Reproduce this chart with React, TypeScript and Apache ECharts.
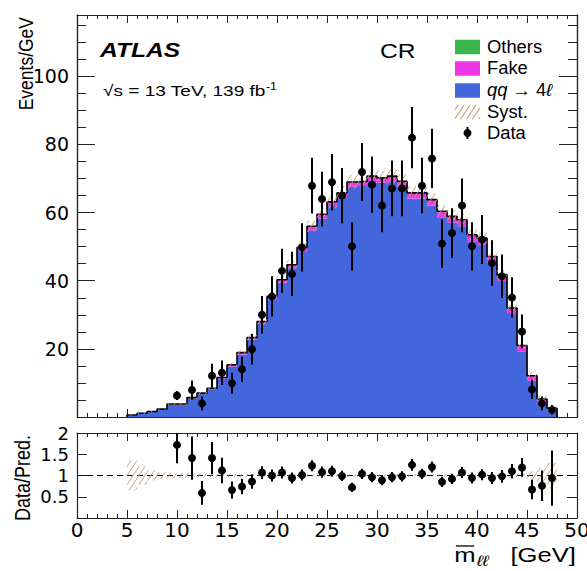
import React, { useEffect, useRef } from 'react';
import * as echarts from 'echarts';

// ---------------- data ----------------
const binEdges = [5, 6, 7, 8, 9, 11, 12, 13, 14, 15, 16, 17, 18, 19, 20, 21, 22, 23, 24, 25, 26, 27, 28, 29, 30, 31, 32, 33, 34, 35, 36, 37, 38, 39, 40, 41, 42, 43, 44, 45, 46, 47, 48];
const qqValues = [0.53, 1.03, 1.48, 2.18, 3.6, 5.45, 6.75, 8.05, 11.25, 14.8, 18.3, 22.7, 27.3, 34.6, 39.4, 43.7, 48.7, 54.8, 58.3, 61.9, 64.5, 67.6, 67.8, 69.3, 68.8, 69.2, 67.7, 64.1, 64.1, 62.1, 58.6, 57.1, 56.0, 51.6, 50.6, 45.2, 39.9, 30.2, 19.3, 10.65, 4.25, 1.85];
const fakeValues = [0.05, 0.05, 0.1, 0.1, 0.15, 0.2, 0.2, 0.3, 0.3, 0.4, 0.5, 0.5, 0.6, 0.7, 0.8, 0.9, 1.0, 1.1, 1.1, 1.2, 1.2, 1.3, 1.3, 1.3, 1.3, 1.4, 1.4, 1.6, 1.6, 1.6, 1.7, 1.7, 1.8, 1.8, 1.8, 1.8, 1.8, 1.7, 1.6, 1.4, 1.0, 0.7];
const otherValues = [0.02, 0.02, 0.02, 0.02, 0.05, 0.05, 0.05, 0.05, 0.05, 0.1, 0.1, 0.1, 0.1, 0.1, 0.1, 0.1, 0.1, 0.1, 0.1, 0.1, 0.1, 0.1, 0.1, 0.1, 0.1, 0.1, 0.1, 0.1, 0.1, 0.1, 0.1, 0.1, 0.1, 0.1, 0.1, 0.1, 0.1, 0.1, 0.1, 0.05, 0.05, 0.05];
const systRel = [0.35, 0.22, 0.12, 0.08, 0.06, 0.05, 0.05, 0.04, 0.04, 0.04, 0.035, 0.035, 0.03, 0.03, 0.03, 0.03, 0.03, 0.03, 0.03, 0.03, 0.03, 0.03, 0.03, 0.03, 0.03, 0.03, 0.03, 0.03, 0.03, 0.03, 0.03, 0.03, 0.03, 0.03, 0.03, 0.03, 0.035, 0.04, 0.05, 0.1, 0.18, 0.3];

const dataX = [10, 11.5, 12.5, 13.5, 14.5, 15.5, 16.5, 17.5, 18.5, 19.5, 20.5, 21.5, 22.5, 23.5, 24.5, 25.5, 26.5, 27.5, 28.5, 29.5, 30.5, 31.5, 32.5, 33.5, 34.5, 35.5, 36.5, 37.5, 38.5, 39.5, 40.5, 41.5, 42.5, 43.5, 44.5, 45.5, 46.5, 47.5];
const dataY = [6.3, 7.9, 4.0, 12.1, 13.0, 9.9, 14.0, 19.9, 30.0, 35.4, 42.9, 42.0, 49.8, 67.9, 64.0, 68.9, 65.0, 50.1, 71.9, 68.2, 62.1, 67.1, 67.1, 82.0, 67.9, 75.9, 50.9, 54.0, 62.1, 50.1, 52.1, 45.2, 41.3, 35.1, 25.1, 8.1, 4.0, 2.1];
const dataErr = [1.3, 2.8, 2.0, 3.5, 3.6, 3.1, 3.7, 4.5, 5.5, 5.9, 6.5, 6.5, 7.1, 8.2, 8.0, 8.3, 8.1, 7.1, 8.5, 8.3, 7.9, 8.2, 8.2, 9.0, 8.2, 8.7, 7.1, 7.3, 7.9, 7.1, 7.2, 6.7, 6.4, 5.9, 5.0, 2.8, 2.0, 1.4];
const ratioY = [1.72, 1.41, 0.59, 1.41, 1.12, 0.66, 0.74, 0.86, 1.07, 1.0, 1.07, 0.94, 1.01, 1.23, 1.08, 1.1, 0.99, 0.72, 1.04, 0.96, 0.89, 0.96, 0.98, 1.25, 1.04, 1.2, 0.85, 0.92, 1.07, 0.94, 1.02, 0.94, 0.98, 1.1, 1.19, 0.67, 0.76, 0.94];
const ratioErr = [0.43, 0.51, 0.28, 0.38, 0.3, 0.2, 0.18, 0.17, 0.15, 0.14, 0.14, 0.13, 0.13, 0.13, 0.13, 0.13, 0.12, 0.11, 0.12, 0.12, 0.12, 0.12, 0.12, 0.14, 0.12, 0.13, 0.12, 0.12, 0.13, 0.13, 0.13, 0.14, 0.15, 0.17, 0.22, 0.23, 0.36, 0.65];

const xRange = [0, 50];
const xMajor = 5;
const yMainRange = [0, 118];
const yMainMajor = 20;
const yMainMinor = 5;
const yRatioRange = [0, 2];
const yRatioMajor = 0.5;

// ---------------- style ----------------
const C_QQ = '#4466dd';
const C_FAKE = '#ee35e6';
const C_OTHER = '#3cb54a';
const C_HATCH = '#c4a27e';
const AX = '#222';
const LAB_FONT = 'DejaVu Sans';
const TXT_FONT = '"Liberation Sans", "DejaVu Sans", sans-serif';

function hatch(x0: number, x1: number, yt: number, yb: number, lw = 1) {
  const k = 1.5;
  const step = 9;
  const out: any[] = [];
  const cMin = k * x0 + yt;
  const cMax = k * x1 + yb;
  for (let c = Math.ceil(cMin / step) * step; c <= cMax; c += step) {
    const xa = Math.max(x0, (c - yb) / k);
    const xb = Math.min(x1, (c - yt) / k);
    if (xb - xa < 0.3) continue;
    out.push({
      type: 'line',
      shape: { x1: xa, y1: c - k * xa, x2: xb, y2: c - k * xb },
      style: { stroke: C_HATCH, lineWidth: lw },
    });
  }
  return out;
}

function measure(text: string, font: string): number {
  const cv = document.createElement('canvas');
  const ctx = cv.getContext('2d');
  if (!ctx) return text.length * 10;
  ctx.font = font;
  return ctx.measureText(text).width;
}

export default function App() {
  const ref = useRef<HTMLDivElement>(null);
  useEffect(() => {
    if (!ref.current) return;
    const chart = echarts.init(ref.current, null, { renderer: 'svg' });

    const nb = qqValues.length;
    const lo = (i: number) => binEdges[i];
    const hi = (i: number) => binEdges[i + 1];
    const totals = qqValues.map((v, i) => v + fakeValues[i] + otherValues[i]);
    const stackQQ = qqValues.map((v, i) => [lo(i), hi(i), 0, v]);
    const stackFake = qqValues.map((v, i) => [lo(i), hi(i), v, v + fakeValues[i]]);
    const stackOther = qqValues.map((v, i) => [lo(i), hi(i), v + fakeValues[i], totals[i]]);
    const systMain = totals.map((t, i) => [lo(i), hi(i), t * (1 - systRel[i]), t * (1 + systRel[i])]);
    const systRatio = totals.map((t, i) => [lo(i), hi(i), 1 - systRel[i], 1 + systRel[i]]);
    const stepData: number[][] = [[binEdges[0], 0]];
    for (let i = 0; i < nb; i++) stepData.push([lo(i), totals[i]]);
    stepData.push([binEdges[nb], totals[nb - 1]]);
    stepData.push([binEdges[nb], 0]);
    const pts = dataX.map((x, i) => [x, dataY[i], dataErr[i]]);
    const rpts = dataX.map((x, i) => [x, ratioY[i], ratioErr[i]]);

    const rectSeries = (data: number[][], color: string, xi: number, yi: number) => ({
      type: 'custom',
      xAxisIndex: xi,
      yAxisIndex: yi,
      data,
      silent: true,
      renderItem: (p: any, api: any) => {
        const a = api.coord([api.value(0), api.value(3)]);
        const b = api.coord([api.value(1), api.value(2)]);
        return {
          type: 'rect',
          shape: { x: a[0], y: a[1], width: b[0] - a[0] + 0.6, height: b[1] - a[1] },
          style: { fill: color },
        };
      },
    });
    const hatchSeries = (data: number[][], xi: number, yi: number) => ({
      type: 'custom',
      xAxisIndex: xi,
      yAxisIndex: yi,
      data,
      silent: true,
      renderItem: (p: any, api: any) => {
        const a = api.coord([api.value(0), api.value(3)]);
        const b = api.coord([api.value(1), api.value(2)]);
        return { type: 'group', children: hatch(a[0], b[0], a[1], b[1]) };
      },
    });
    const pointSeries = (data: number[][], xi: number, yi: number, yMax: number) => ({
      type: 'custom',
      xAxisIndex: xi,
      yAxisIndex: yi,
      data,
      silent: true,
      z: 5,
      renderItem: (p: any, api: any) => {
        const x = api.value(0), y = api.value(1), e = api.value(2);
        const c = api.coord([x, y]);
        const t = api.coord([x, Math.min(y + e, yMax)]);
        const b = api.coord([x, Math.max(y - e, 0)]);
        return {
          type: 'group',
          children: [
            { type: 'line', shape: { x1: t[0], y1: t[1], x2: b[0], y2: b[1] }, style: { stroke: '#000', lineWidth: 2 } },
            { type: 'circle', shape: { cx: c[0], cy: c[1], r: 4 }, style: { fill: '#000' } },
          ],
        };
      },
    });

    const xAx = (grid: number, pos: string, labels: boolean) => ({
      type: 'value', gridIndex: grid, position: pos, min: xRange[0], max: xRange[1], interval: xMajor,
      axisLine: { show: true, onZero: false, lineStyle: { color: AX, width: 1.2 } },
      axisTick: { show: true, inside: true, length: 8, lineStyle: { color: AX, width: 1 } },
      minorTick: { show: true, splitNumber: 5, length: 4, lineStyle: { color: AX, width: 1 } },
      axisLabel: { show: labels, color: '#000', fontFamily: LAB_FONT, fontSize: 20, margin: 2 },
      splitLine: { show: false },
      minorSplitLine: { show: false },
    });
    const yAx = (grid: number, pos: string, range: number[], interval: number, tickLen: number, labels: boolean, hideLabel: (v: number) => boolean, fs: number) => ({
      type: 'value', gridIndex: grid, position: pos, min: range[0], max: range[1], interval,
      axisLine: { show: true, onZero: false, lineStyle: { color: AX, width: 1.2 } },
      axisTick: { show: true, inside: true, length: tickLen, lineStyle: { color: AX, width: 1 } },
      axisLabel: {
        show: labels, color: '#000', fontFamily: LAB_FONT, fontSize: fs, margin: 8,
        formatter: (v: number) => (hideLabel(v) ? '' : String(v)),
      },
      splitLine: { show: false },
    });
    const mainHide = (v: number) => v === 0 || Math.abs(v % yMainMajor) > 1e-6;
    const ratioHide = (v: number) => v === 0;

    const legendRows = [
      { label: 'Others', kind: 'box', color: C_OTHER, y: 47 },
      { label: 'Fake', kind: 'box', color: C_FAKE, y: 68.5 },
      { label: '{i|qq} → 4{i|ℓ}', kind: 'box', color: C_QQ, y: 90.5 },
      { label: 'Syst.', kind: 'hatch', color: C_HATCH, y: 112 },
      { label: 'Data', kind: 'data', color: '#000', y: 133 },
    ];
    const legendEls: any[] = [];
    const lx0 = 455, lx1 = 480, lh = 14.5;
    legendRows.forEach((r) => {
      if (r.kind === 'box') {
        legendEls.push({ type: 'rect', shape: { x: lx0, y: r.y - lh / 2, width: lx1 - lx0, height: lh }, style: { fill: r.color } });
      } else if (r.kind === 'hatch') {
        legendEls.push({ type: 'group', children: hatch(lx0, lx1, r.y - lh / 2, r.y + lh / 2, 1.2) });
      } else {
        legendEls.push({ type: 'line', shape: { x1: (lx0 + lx1) / 2, y1: r.y - 6, x2: (lx0 + lx1) / 2, y2: r.y + 6 }, style: { stroke: '#000', lineWidth: 2 } });
        legendEls.push({ type: 'circle', shape: { cx: (lx0 + lx1) / 2, cy: r.y, r: 4 }, style: { fill: '#000' } });
      }
      legendEls.push({
        type: 'text', x: 487, y: r.y, scaleX: 1.05,
        style: {
          text: r.label, fill: '#000', verticalAlign: 'middle', align: 'left',
          font: `17.5px ${TXT_FONT}`,
          rich: { i: { fontStyle: 'italic', fontSize: 17.5, fontFamily: TXT_FONT } },
        },
      });
    });

    // x-axis title: m̄_ℓℓ [GeV]
    const ts = 1.22;
    const fBig = `21px ${TXT_FONT}`;
    const fSub = `italic 15px ${TXT_FONT}`;
    const wG = measure('[GeV]', fBig) * ts;
    const wS = measure('ℓℓ', fSub) * ts;
    const wM = measure('m', fBig) * ts;
    const xG = 576 - wG;
    const xS = xG - 22 - wS;
    const xM = xS - wM - 1;
    const titleY = 555;
    const titleEls: any[] = [
      { type: 'text', x: xM, y: titleY, scaleX: ts, style: { text: 'm', font: fBig, fill: '#000', align: 'left', verticalAlign: 'middle' } },
      { type: 'line', shape: { x1: xM + 1.5, y1: titleY - 9, x2: xM + wM - 1.5, y2: titleY - 9 }, style: { stroke: '#000', lineWidth: 1.3 } },
      { type: 'text', x: xS, y: titleY + 6, scaleX: ts, style: { text: 'ℓℓ', font: fSub, fill: '#000', align: 'left', verticalAlign: 'middle' } },
      { type: 'text', x: xG, y: titleY, scaleX: ts, style: { text: '[GeV]', font: fBig, fill: '#000', align: 'left', verticalAlign: 'middle' } },
    ];

    const option: any = {
      animation: false,
      backgroundColor: '#fff',
      grid: [
        { left: 77, top: 15, width: 500, height: 402, containLabel: false, outerBoundsMode: 'none' },
        { left: 77, top: 433, width: 500, height: 85, containLabel: false, outerBoundsMode: 'none' },
      ],
      xAxis: [xAx(0, 'bottom', false), xAx(0, 'top', false), xAx(1, 'bottom', true), xAx(1, 'top', false)],
      yAxis: [
        yAx(0, 'left', yMainRange, yMainMajor, 18, true, mainHide, 19),
        yAx(0, 'left', yMainRange, yMainMinor, 9, false, mainHide, 19),
        yAx(0, 'right', yMainRange, yMainMajor, 18, false, mainHide, 19),
        yAx(0, 'right', yMainRange, yMainMinor, 9, false, mainHide, 19),
        yAx(1, 'left', yRatioRange, yRatioMajor, 10, true, ratioHide, 18),
        yAx(1, 'right', yRatioRange, yRatioMajor, 10, false, ratioHide, 18),
      ],
      series: [
        rectSeries(stackQQ, C_QQ, 0, 0),
        rectSeries(stackFake, C_FAKE, 0, 0),
        rectSeries(stackOther, C_OTHER, 0, 0),
        {
          type: 'line', xAxisIndex: 0, yAxisIndex: 0, data: stepData, step: 'end', symbol: 'none', silent: true,
          lineStyle: { color: '#000', width: 1.6 }, z: 3,
        },
        { ...hatchSeries(systMain, 0, 0), z: 4 },
        pointSeries(pts, 0, 0, yMainRange[1]),
        {
          type: 'line', xAxisIndex: 2, yAxisIndex: 4, data: [[xRange[0], 1], [xRange[1], 1]], symbol: 'none', silent: true,
          lineStyle: { color: '#000', width: 1, type: [6, 4] },
        },
        { ...hatchSeries(systRatio, 2, 4), z: 4 },
        pointSeries(rpts, 2, 4, yRatioRange[1]),
      ],
      graphic: [
        {
          type: 'text', x: 100, y: 50, scaleX: 1.2,
          style: { text: 'ATLAS', font: `italic bold 20.5px ${TXT_FONT}`, fill: '#000', verticalAlign: 'middle', align: 'left' },
        },
        {
          type: 'text', x: 103, y: 90, scaleX: 1.23,
          style: {
            text: '{a|√s = 13 TeV, 139 fb}{b|-1}', fill: '#000', verticalAlign: 'middle', align: 'left',
            rich: {
              a: { fontSize: 15.5, fontFamily: TXT_FONT, lineHeight: 18, verticalAlign: 'bottom' },
              b: { fontSize: 10, fontFamily: TXT_FONT, lineHeight: 18, verticalAlign: 'top' },
            },
          },
        },
        {
          type: 'text', x: 380, y: 51, scaleX: 1.2,
          style: { text: 'CR', font: `20.5px ${TXT_FONT}`, fill: '#000', verticalAlign: 'middle', align: 'left' },
        },
        {
          type: 'text', x: 26, y: 17, rotation: Math.PI / 2, scaleY: 1.2,
          style: { text: 'Events/GeV', font: `17.5px ${TXT_FONT}`, fill: '#000', verticalAlign: 'middle', align: 'right' },
        },
        {
          type: 'text', x: 22, y: 478, rotation: Math.PI / 2, scaleY: 1.2,
          style: { text: 'Data/Pred.', font: `18px ${TXT_FONT}`, fill: '#000', verticalAlign: 'middle', align: 'center' },
        },
        ...titleEls,
        ...legendEls,
      ],
    };
    chart.setOption(option);
    return () => chart.dispose();
  }, []);
  return <div ref={ref} style={{ position: 'absolute', left: 0, top: 0, width: 587, height: 571 }} />;
}
